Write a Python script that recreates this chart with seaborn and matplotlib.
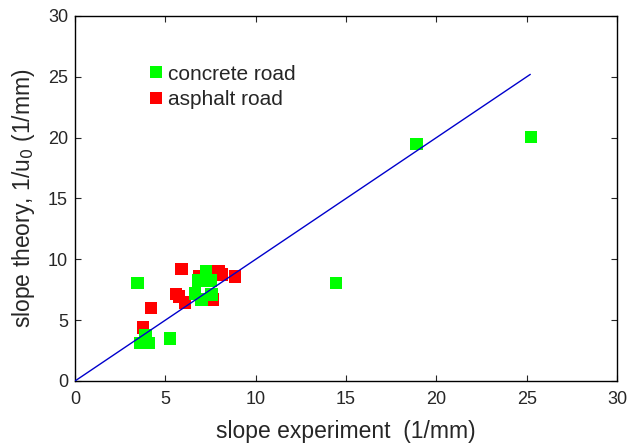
import matplotlib
matplotlib.use("Agg")
import matplotlib.pyplot as plt
import seaborn as sns
import pandas as pd

sns.set_style("white")
plt.rcParams['font.family'] = ['Liberation Sans', 'DejaVu Sans']

concrete_x = [3.45, 3.6, 4.1, 3.9, 5.25, 7.25, 6.8, 7.5, 6.65, 7.0, 7.55, 14.45, 18.9, 25.25]
concrete_y = [8.05, 3.1, 3.1, 3.8, 3.5, 9.0, 8.25, 8.25, 7.2, 6.7, 7.1, 8.05, 19.5, 20.05]
asphalt_x = [5.9, 5.6, 5.75, 6.1, 4.2, 3.75, 7.95, 8.1, 8.85, 7.65, 6.9]
asphalt_y = [9.2, 7.15, 6.95, 6.45, 6.0, 4.4, 9.0, 8.75, 8.6, 6.7, 8.65]
line_x = [0, 25.2]
line_y = [0, 25.2]

df = pd.DataFrame({
    "x": asphalt_x + concrete_x,
    "y": asphalt_y + concrete_y,
    "road": ["asphalt road"] * len(asphalt_x) + ["concrete road"] * len(concrete_x),
})

fig = plt.figure(figsize=(6.28, 4.44), dpi=100)
ax = fig.add_axes([0.1194, 0.1419, 0.8631, 0.8221])

sns.scatterplot(data=df, x="x", y="y", hue="road",
                palette={"concrete road": "#00ff00", "asphalt road": "#ff0000"},
                hue_order=["concrete road", "asphalt road"],
                marker="s", s=80, linewidth=0, ax=ax, zorder=2)
sns.lineplot(x=line_x, y=line_y, color="#0000cc", linewidth=1.0, ax=ax, zorder=3)

ax.set_xlim(0, 30)
ax.set_ylim(0, 30)
ax.set_xticks(range(0, 31, 5))
ax.set_yticks(range(0, 31, 5))
ax.tick_params(direction="in", length=4, width=0.8, labelsize=13,
               top=True, right=True, bottom=True, left=True, pad=5)
ax.tick_params(axis="x", pad=7)
for sp in ax.spines.values():
    sp.set_color("black")
    sp.set_linewidth(1.0)

ax.set_xlabel("slope experiment  (1/mm)", fontsize=16.5, labelpad=8.5)
ax.set_ylabel("slope theory, 1/u$_0$ (1/mm)", fontsize=16.5, labelpad=8)

handles, labels = ax.get_legend_handles_labels()
leg = ax.legend(handles=handles, labels=labels, loc="upper left",
                bbox_to_anchor=(0.104, 0.918), frameon=False, fontsize=15,
                handlelength=0.6, handletextpad=0.25, labelspacing=0.3,
                markerscale=1.0)

fig.savefig("out.png", dpi=100)
